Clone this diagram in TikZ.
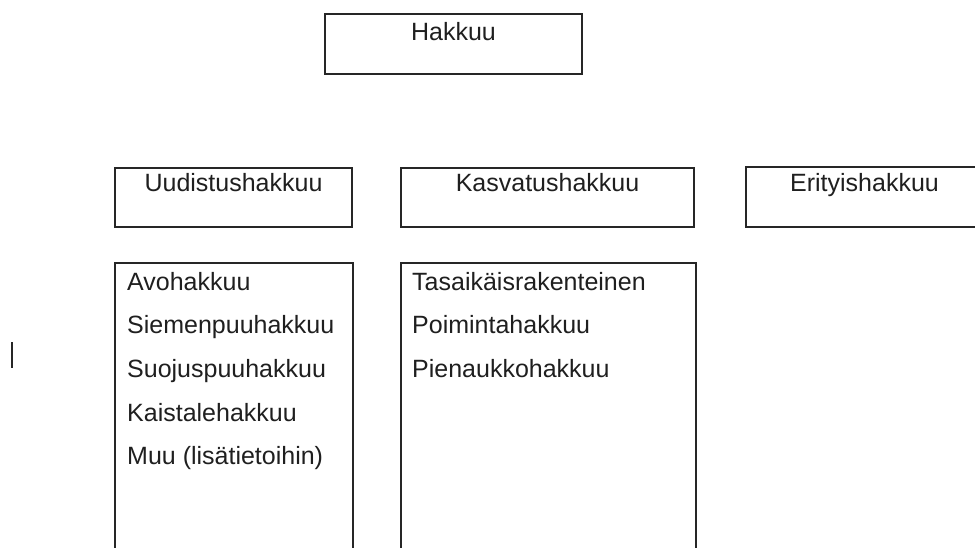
\documentclass[tikz,border=0pt]{standalone}
\usepackage{fontspec}
\setmainfont{Liberation Sans}
\begin{document}
\begin{tikzpicture}[x=1pt,y=-1pt,
  boxline/.style={draw=black!85, line width=1.5pt},
  label/.style={inner sep=0pt, anchor=base, font=\fontsize{25}{30}\selectfont, text=black!88},
  item/.style={inner sep=0pt, anchor=base west, font=\fontsize{25}{30}\selectfont, text=black!88}]
\useasboundingbox (0,0) rectangle (975,548);
\begin{scope}
\clip (0,0) rectangle (975,548);
% boxes
\draw[boxline] (325,14) rectangle (582,74);
\draw[boxline] (115,168) rectangle (352,227);
\draw[boxline] (401,168) rectangle (694,227);
\draw[boxline] (746,167) rectangle (983,227);
\draw[boxline] (115,263) rectangle (353,560);
\draw[boxline] (401,263) rectangle (696,560);
% stray bar
\draw[black!85, line width=2pt] (12,342) -- (12,368);
\end{scope}
% header texts
\node[label] (hakkuu) at (453.5,41) {Hakkuu};
\node[label] (uud) at (233.5,192) {Uudistushakkuu};
\node[label] (kas) at (547.5,192) {Kasvatushakkuu};
\node[label] (eri) at (864.5,192) {Erityishakkuu};
% left list
\node[item] (a1) at (127,290.5) {Avohakkuu};
\node[item] (a2) at (127,334) {Siemenpuuhakkuu};
\node[item] (a3) at (127,377.5) {Suojuspuuhakkuu};
\node[item] (a4) at (127,421) {Kaistalehakkuu};
\node[item] (a5) at (127,464.5) {Muu (lisätietoihin)};
% middle list
\node[item] (b1) at (412,290.5) {Tasaikäisrakenteinen};
\node[item] (b2) at (412,334) {Poimintahakkuu};
\node[item] (b3) at (412,377.5) {Pienaukkohakkuu};
\end{tikzpicture}
\end{document}
